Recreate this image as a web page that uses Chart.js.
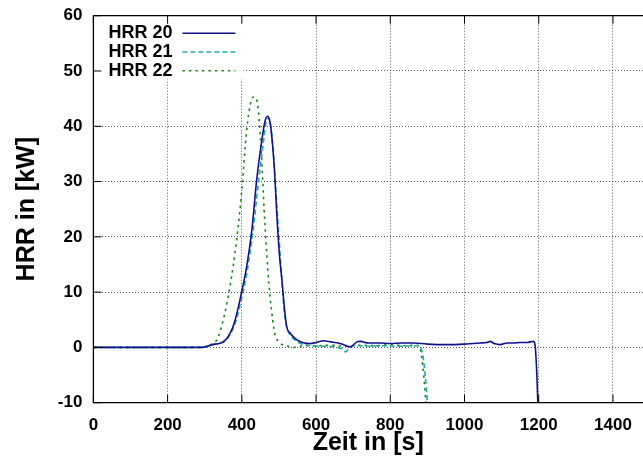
<!DOCTYPE html>
<html>
<head>
<meta charset="utf-8">
<script src="https://cdn.jsdelivr.net/npm/chart.js@4/dist/chart.umd.min.js"></script>
<style>
  html, body { margin: 0; padding: 0; background: #fff; }
  #wrap { width: 643px; height: 464px; }
</style>
</head>
<body>
<div id="wrap"><canvas id="chart"></canvas></div>
<script>
// values
const hrr20Time = [0, 100, 200, 290, 300, 315, 330, 350, 368, 380, 395, 413, 427, 440, 454, 462, 469, 475, 481, 488, 494, 501, 508, 515, 521, 530, 539, 552, 566, 584, 600, 620, 640, 660, 674, 692, 710, 720, 740, 772, 800, 830, 862, 900, 952, 1000, 1042, 1060, 1069, 1080, 1096, 1115, 1132, 1150, 1168, 1186, 1190, 1195, 1200];
const hrr20Value = [0, 0, 0, 0, 0.1, 0.4, 0.6, 1.0, 2.5, 4.5, 8.6, 14.6, 21.2, 30.3, 37.5, 40.8, 41.8, 41, 38, 32, 24.3, 17, 12.2, 7, 3.7, 2.6, 1.9, 1.2, 0.85, 0.7, 0.9, 1.2, 1.0, 0.8, 0.5, 0.1, 1.0, 1.1, 0.8, 0.8, 0.7, 0.8, 0.8, 0.6, 0.5, 0.6, 0.8, 0.9, 1.1, 0.7, 0.5, 0.8, 0.8, 0.9, 0.9, 1.1, 0.5, -5, -15];

const hrr21Time = [0, 100, 200, 290, 300, 320, 340, 355, 370, 385, 400, 415, 430, 445, 458, 466, 472, 478, 485, 492, 500, 507, 515, 522, 530, 540, 555, 570, 590, 620, 650, 670, 680, 690, 710, 740, 780, 820, 860, 875, 882, 888, 894, 900, 905];
const hrr21Value = [0, 0, 0, 0, 0, 0.5, 0.8, 1.2, 2.5, 5, 9, 14, 21, 30, 37, 41, 41.5, 40, 35, 28, 20, 13, 6, 3.5, 2.2, 1.5, 0.8, 0.5, 0.3, 0.2, 0.1, -0.3, -0.8, 0, 0.3, 0.2, 0.3, 0.2, 0.3, 0.3, 0, -1.5, -5, -10, -15];

const hrr22Time = [0, 100, 200, 290, 300, 315, 332, 350, 368, 386, 400, 413, 423, 431, 437, 442, 448, 454, 460, 465, 470, 476, 483, 490, 500, 512, 525, 540, 570, 600, 640, 680, 720, 760, 800, 840, 870, 878, 884, 890, 896, 902];
const hrr22Value = [0, 0, 0, 0, 0.1, 0.5, 1.3, 5, 11, 19.4, 28.5, 39.3, 44, 45.3, 45.2, 44.1, 40, 33.3, 25, 19.4, 14, 9.2, 5, 2.2, 1, 0.4, 0.2, 0, 0.3, 0.3, 0.4, 0.2, 0.4, 0.3, 0.5, 0.3, 0.4, 0.2, -1.5, -5, -10, -15];

const seriesNames = ['HRR 20', 'HRR 21', 'HRR 22'];
const xTicks = [0, 200, 400, 600, 800, 1000, 1200, 1400];
const yTicks = [-10, 0, 10, 20, 30, 40, 50, 60];

const FONT = "'Liberation Sans', Arial, sans-serif";

function toPoints(xs, ys) {
  return xs.map((x, i) => ({ x: x, y: ys[i] }));
}

// gnuplot style frame, inward ticks and boxed key
const framePlugin = {
  id: 'frame',
  afterDraw(chart) {
    const ctx = chart.ctx;
    const a = chart.chartArea;
    const xs = chart.scales.x, ys = chart.scales.y;
    ctx.save();

    // key
    ctx.fillStyle = '#fff';
    ctx.fillRect(a.left + 2, a.top + 2, 148, 62);
    ctx.font = 'bold 18px ' + FONT;
    ctx.textAlign = 'right';
    ctx.textBaseline = 'middle';
    chart.data.datasets.forEach((ds, i) => {
      const y = a.top + 17.5 + i * 18.8;
      ctx.fillStyle = '#000';
      ctx.fillText(ds.label, a.left + 79, y);
      ctx.strokeStyle = ds.borderColor;
      ctx.lineWidth = ds.borderWidth;
      ctx.setLineDash(ds.borderDash || []);
      ctx.beginPath();
      ctx.moveTo(a.left + 89, y);
      ctx.lineTo(a.left + 142, y);
      ctx.stroke();
    });
    ctx.setLineDash([]);

    // frame
    ctx.strokeStyle = '#000';
    ctx.lineWidth = 1.3;
    ctx.beginPath();
    ctx.moveTo(a.right, a.top);
    ctx.lineTo(a.left, a.top);
    ctx.lineTo(a.left, a.bottom);
    ctx.lineTo(a.right, a.bottom);
    ctx.stroke();

    // inward ticks
    ctx.lineWidth = 1;
    ctx.beginPath();
    yTicks.forEach(v => {
      const p = ys.getPixelForValue(v);
      ctx.moveTo(a.left, p);
      ctx.lineTo(a.left + 8, p);
    });
    xTicks.forEach(v => {
      const p = xs.getPixelForValue(v);
      ctx.moveTo(p, a.bottom);
      ctx.lineTo(p, a.bottom - 8);
      ctx.moveTo(p, a.top);
      ctx.lineTo(p, a.top + 8);
    });
    ctx.stroke();
    ctx.restore();
  }
};

new Chart(document.getElementById('chart'), {
  type: 'line',
  data: {
    datasets: [
      {
        label: seriesNames[0],
        data: toPoints(hrr20Time, hrr20Value),
        borderColor: '#12128c',
        borderWidth: 1.6,
        pointRadius: 0,
        cubicInterpolationMode: 'monotone'
      },
      {
        label: seriesNames[1],
        data: toPoints(hrr21Time, hrr21Value),
        borderColor: '#25a9a9',
        borderWidth: 1.6,
        borderDash: [5, 3],
        pointRadius: 0,
        cubicInterpolationMode: 'monotone'
      },
      {
        label: seriesNames[2],
        data: toPoints(hrr22Time, hrr22Value),
        borderColor: '#1d861d',
        borderWidth: 1.6,
        borderDash: [2.5, 4],
        pointRadius: 0,
        cubicInterpolationMode: 'monotone'
      }
    ]
  },
  options: {
    responsive: true,
    maintainAspectRatio: false,
    animation: false,
    layout: { padding: { top: 15.7, right: 0, bottom: 0, left: 0 } },
    plugins: {
      legend: { display: false },
      tooltip: { enabled: false }
    },
    scales: {
      x: {
        type: 'linear',
        min: 0,
        max: 1481,
        afterBuildTicks: scale => { scale.ticks = xTicks.map(v => ({ value: v })); },
        afterFit: scale => {
          scale.height = 61.3;
          scale.paddingLeft = 0;
          scale.paddingRight = 0;
        },
        ticks: {
          padding: 12,
          color: '#000',
          font: { family: FONT, size: 17, weight: 'bold' },
          callback: v => String(v)
        },
        grid: {
          color: 'rgba(0,0,0,0.65)',
          lineWidth: 1,
          drawTicks: false
        },
        border: { display: false, dash: [1, 2] },
        title: {
          display: true,
          text: 'Zeit in [s]',
          color: '#000',
          font: { family: FONT, size: 25, weight: 'bold' },
          padding: { top: 0, bottom: 6 }
        }
      },
      y: {
        min: -10,
        max: 60,
        afterBuildTicks: scale => { scale.ticks = yTicks.map(v => ({ value: v })); },
        afterFit: scale => {
          scale.width = 93.4;
          scale.paddingTop = 0;
          scale.paddingBottom = 0;
        },
        ticks: {
          padding: 11,
          color: '#000',
          font: { family: FONT, size: 17, weight: 'bold' },
          callback: v => String(v)
        },
        grid: {
          color: 'rgba(0,0,0,0.65)',
          lineWidth: 1,
          drawTicks: false
        },
        border: { display: false, dash: [1, 2] },
        title: {
          display: true,
          text: 'HRR in [kW]',
          color: '#000',
          font: { family: FONT, size: 25, weight: 'bold' },
          padding: { top: 12, bottom: 0 }
        }
      }
    }
  },
  plugins: [framePlugin]
});
</script>
</body>
</html>
